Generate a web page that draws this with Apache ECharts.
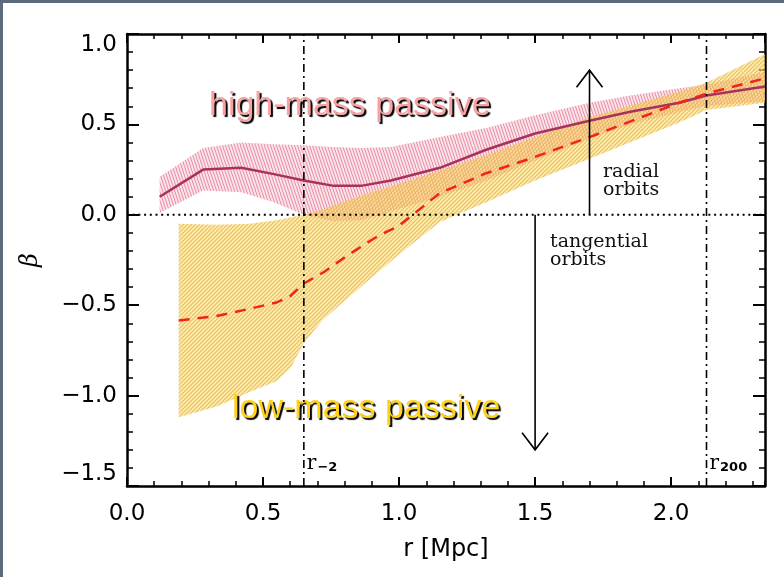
<!DOCTYPE html>
<html><head><meta charset="utf-8">
<script src="https://cdn.jsdelivr.net/npm/echarts@6/dist/echarts.min.js"></script>
<style>
html,body{margin:0;padding:0;background:#fff;}
#wrap{position:relative;width:784px;height:577px;overflow:hidden;background:#fff;}
#chart{position:absolute;left:0;top:0;width:784px;height:577px;}
.bar{position:absolute;background:#5b6b7d;}
</style></head><body>
<div id="wrap"><div id="chart"></div>
<div class="bar" style="left:0;top:0;width:784px;height:3px"></div>
<div class="bar" style="left:0;top:0;width:3px;height:577px"></div>
</div>
<script>
// ---- axis extents ----
const X_MIN = 0, X_MAX = 2.345, Y_MIN = -1.5, Y_MAX = 1.0;

// ---- high-mass passive (median + band) ----
const pinkX   = [0.12, 0.28, 0.42, 0.54, 0.65, 0.76, 0.86, 0.97, 1.15, 1.32, 1.50, 1.70, 1.85, 2.03, 2.13, 2.345];
const pinkMed = [0.10, 0.25, 0.26, 0.225, 0.19, 0.16, 0.16, 0.19, 0.26, 0.36, 0.45, 0.52, 0.57, 0.62, 0.66, 0.71];
const pinkHi  = [0.21, 0.37, 0.40, 0.39, 0.385, 0.375, 0.37, 0.375, 0.43, 0.48, 0.55, 0.62, 0.66, 0.70, 0.72, 0.79];
const pinkLo  = [0.01, 0.135, 0.125, 0.07, 0.0, -0.035, -0.03, 0.02, 0.10, 0.19, 0.30, 0.42, 0.50, 0.57, 0.60, 0.63];

// ---- low-mass passive (median + band) ----
const yelX   = [0.19, 0.33, 0.45, 0.55, 0.60, 0.65, 0.72, 0.82, 0.92, 1.00, 1.15, 1.32, 1.50, 1.70, 2.03, 2.13, 2.345];
const yelMed = [-0.585, -0.56, -0.52, -0.485, -0.45, -0.38, -0.32, -0.215, -0.12, -0.06, 0.12, 0.23, 0.32, 0.43, 0.62, 0.67, 0.755];
const yelHi  = [-0.05, -0.055, -0.05, -0.03, -0.015, 0.0, 0.03, 0.085, 0.135, 0.17, 0.245, 0.33, 0.43, 0.54, 0.68, 0.73, 0.89];
const yelLo  = [-1.12, -1.06, -0.98, -0.92, -0.85, -0.71, -0.58, -0.45, -0.32, -0.22, -0.04, 0.07, 0.19, 0.31, 0.51, 0.58, 0.62];

// ---- reference lines ----
const refX = [0.65, 2.13];
const refLabels = ['{r|r}{s|\u22122}', '{r|r}{s|200}'];

// ---- arrows (x, from, to) ----
const arrowX = [1.70, 1.50];
const arrowFrom = [0, 0];
const arrowTo = [0.80, -1.30];

const TICK_FONT = '"DejaVu Sans", sans-serif';
const fmt = v => (v < 0 ? '\u2212' : '') + Math.abs(v).toFixed(1);

function hatch(w, h, segs, color, bg, lw) {
  const c = document.createElement('canvas');
  c.width = w; c.height = h;
  const ctx = c.getContext('2d');
  if (bg) { ctx.fillStyle = bg; ctx.fillRect(0, 0, w, h); }
  ctx.strokeStyle = color; ctx.lineWidth = lw;
  segs.forEach(s => { ctx.beginPath(); ctx.moveTo(s[0], s[1]); ctx.lineTo(s[2], s[3]); ctx.stroke(); });
  return c;
}
const pinkPat = hatch(3, 9, [[-3,0,0,9],[0,0,3,9],[3,0,6,9]], 'rgba(228,120,148,0.8)', 'rgba(242,186,200,0.4)', 1);
const yelPat = hatch(4, 4, [[-4,4,0,0],[0,4,4,0],[4,4,8,0]], 'rgba(244,180,40,0.8)', 'rgba(250,214,100,0.5)', 1.1);

function bandSeries(xs, lo, hi, pat) {
  return {
    type: 'custom', coordinateSystem: 'cartesian2d', silent: true, z: 1,
    data: xs.map((x, i) => [x, lo[i], hi[i]]),
    encode: { x: 0, y: [1, 2] },
    renderItem: (params, api) => {
      if (params.dataIndex !== 0) return null;
      const pts = [];
      for (let i = 0; i < xs.length; i++) pts.push(api.coord([xs[i], hi[i]]));
      for (let i = xs.length - 1; i >= 0; i--) pts.push(api.coord([xs[i], lo[i]]));
      return { type: 'polygon', shape: { points: pts }, style: { fill: { image: pat, repeat: 'repeat' }, stroke: 'none' } };
    }
  };
}

function majorX(pos, labels) {
  return {
    type: 'value', position: pos, min: X_MIN, max: X_MAX, interval: 0.5,
    axisLine: { show: true, onZero: false, lineStyle: { color: '#000', width: 2.5 } },
    axisTick: { show: true, inside: true, length: 9, lineStyle: { color: '#000', width: 2 } },
    axisLabel: labels ? { show: true, margin: 17, fontSize: 23, fontFamily: TICK_FONT, color: '#000', formatter: fmt, showMaxLabel: false } : { show: false },
    splitLine: { show: false },
    name: labels ? 'r [Mpc]' : '', nameLocation: 'middle', nameGap: 52,
    nameTextStyle: { fontSize: 24, fontFamily: TICK_FONT, color: '#000' }
  };
}
function minorX(pos) {
  return {
    type: 'value', position: pos, min: X_MIN, max: X_MAX, interval: 0.1,
    axisLine: { show: false, onZero: false },
    axisTick: { show: true, inside: true, length: 5, lineStyle: { color: '#000', width: 1.5 } },
    axisLabel: { show: false }, splitLine: { show: false }
  };
}
function yAx(pos, labels) {
  return {
    type: 'value', position: pos, min: Y_MIN, max: Y_MAX, interval: 0.5,
    axisLine: { show: true, onZero: false, lineStyle: { color: '#000', width: 2.5 } },
    axisTick: { show: true, inside: true, length: 12, lineStyle: { color: '#000', width: 2 } },
    minorTick: { show: true, splitNumber: 5, length: 6, lineStyle: { color: '#000', width: 1.5 } },
    axisLabel: labels ? { show: true, margin: 10, fontSize: 23, fontFamily: TICK_FONT, color: '#000', formatter: fmt,
      verticalAlignMaxLabel: 'top', verticalAlignMinLabel: 'bottom' } : { show: false },
    splitLine: { show: false }, minorSplitLine: { show: false },
    name: labels ? '\u03b2' : '', nameLocation: 'middle', nameGap: 84, nameRotate: 90,
    nameTextStyle: { fontSize: 24, fontFamily: '"DejaVu Serif", serif', fontStyle: 'italic', color: '#000' }
  };
}

const series = [
  bandSeries(pinkX, pinkLo, pinkHi, pinkPat),
  bandSeries(yelX, yelLo, yelHi, yelPat),
  { type: 'line', data: pinkX.map((x, i) => [x, pinkMed[i]]), symbol: 'none', z: 5, silent: true,
    lineStyle: { color: '#a8325e', width: 2.5 } },
  { type: 'line', data: yelX.map((x, i) => [x, yelMed[i]]), symbol: 'none', z: 6, silent: true,
    lineStyle: { color: '#f02418', width: 2.5, type: [11, 8] } },
  { type: 'line', data: [[X_MIN, 0], [X_MAX, 0]], symbol: 'none', z: 7, silent: true,
    lineStyle: { color: '#000', width: 2, type: [2, 3.7] } }
];
refX.forEach(x => series.push({ type: 'line', data: [[x, Y_MIN], [x, Y_MAX]], symbol: 'none', z: 7, silent: true,
  lineStyle: { color: '#000', width: 1.6, type: [8, 4, 2, 4] } }));
series.push({
  type: 'custom', coordinateSystem: 'cartesian2d', silent: true, z: 8,
  data: refX.map(x => [x, Y_MIN]),
  renderItem: (params, api) => {
    const i = params.dataIndex;
    const p = api.coord([refX[i], Y_MIN]);
    return { type: 'text', x: p[0] + 3, y: p[1] - 12, style: {
      text: refLabels[i], align: 'left', verticalAlign: 'bottom',
      rich: { r: { fontFamily: '"DejaVu Serif", serif', fontSize: 20, color: '#000', verticalAlign: 'bottom' },
              s: { fontFamily: TICK_FONT, fontWeight: 'bold', fontSize: 13, color: '#000', verticalAlign: 'bottom', padding: [0, 0, 0, 1] } } } };
  }
});
series.push({
  type: 'custom', coordinateSystem: 'cartesian2d', silent: true, z: 8,
  data: arrowX.map((x, i) => [x, arrowTo[i]]),
  renderItem: (params, api) => {
    const i = params.dataIndex;
    const p0 = api.coord([arrowX[i], arrowFrom[i]]);
    const p1 = api.coord([arrowX[i], arrowTo[i]]);
    const d = p1[1] < p0[1] ? 1 : -1;
    return { type: 'group', children: [
      { type: 'line', shape: { x1: p0[0], y1: p0[1], x2: p1[0], y2: p1[1] }, style: { stroke: '#000', lineWidth: 1.6 } },
      { type: 'polyline', shape: { points: [[p1[0] - 13, p1[1] + d * 17], [p1[0], p1[1]], [p1[0] + 13, p1[1] + d * 17]] },
        style: { stroke: '#000', lineWidth: 1.6, fill: 'none' } }
    ] };
  }
});

const chart = echarts.init(document.getElementById('chart'), null, { renderer: 'canvas' });
chart.setOption({
  animation: false,
  backgroundColor: '#fff',
  grid: { left: 127, right: 19, top: 34, bottom: 91, containLabel: false },
  xAxis: [majorX('bottom', true), minorX('bottom'), majorX('top', false), minorX('top')],
  yAxis: [yAx('left', true), yAx('right', false)],
  series: series,
  graphic: [
    { type: 'text', x: 209, y: 89, z: 3, silent: true, style: { text: 'high-mass passive', font: '34px "Liberation Sans", Arial, sans-serif',
      fill: '#f7a3a3', textShadowColor: '#000', textShadowOffsetX: 2, textShadowOffsetY: 2, textShadowBlur: 1 } },
    { type: 'text', x: 232, y: 392, z: 3, silent: true, style: { text: 'low-mass passive', font: '34px "Liberation Sans", Arial, sans-serif',
      fill: '#ffd21a', textShadowColor: '#000', textShadowOffsetX: 2, textShadowOffsetY: 2, textShadowBlur: 1 } },
    { type: 'text', x: 603, y: 163, z: 3, silent: true, style: { text: 'radial\norbits', font: '19px "DejaVu Serif", serif', lineHeight: 18, fill: '#111' } },
    { type: 'text', x: 550, y: 233, z: 3, silent: true, style: { text: 'tangential\norbits', font: '19px "DejaVu Serif", serif', lineHeight: 18, fill: '#111' } }
  ]
});
</script>
</body></html>
